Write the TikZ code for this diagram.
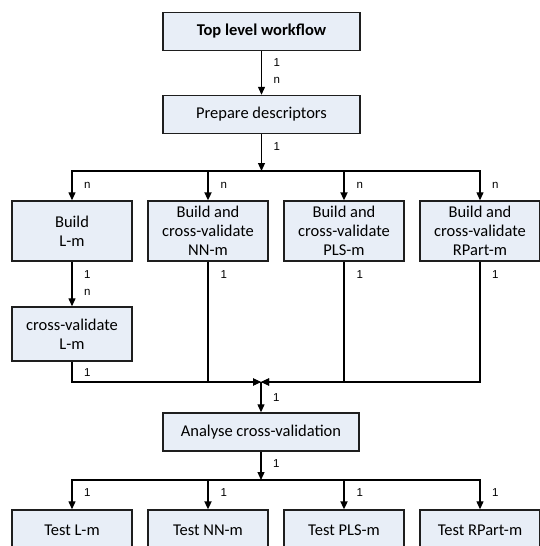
\documentclass[tikz,border=0pt]{standalone}
\usepackage{fontspec}
\setmainfont{Carlito}
\newfontfamily\lblfont{Liberation Sans}
\usetikzlibrary{arrows.meta}

\definecolor{boxfill}{RGB}{232,238,247}
\definecolor{boxline}{RGB}{30,30,30}

\tikzset{
    task/.style={draw=boxline, fill=boxfill, line width=1.4pt, inner sep=0pt,
        align=center, font=\fontsize{16.5}{19}\selectfont},
    wide/.style={task, minimum width=197pt, minimum height=38pt},
    small/.style={task, minimum width=120pt, minimum height=60pt},
    arr/.style={line width=1.2pt, -{Triangle[length=8pt,width=7pt]}},
    heavy/.style={line width=2.1pt},
    lbl/.style={font=\lblfont\fontsize{11.5}{13}\selectfont, anchor=west,
        inner sep=0pt, xshift=11.5pt}
}

\begin{document}
\begin{tikzpicture}[x=1pt, y=-1pt]
    \useasboundingbox (0,0) rectangle (540,546);
    \clip (0,0) rectangle (540,546);

    \node[wide, font=\fontsize{16.5}{19}\selectfont\bfseries] (top) at (261.5,31.5) {Top level workflow};
    \node[wide] (prep) at (261.5,114.5) {Prepare descriptors};

    \node[small] (buildL) at (72,231) {Build\\L-m};
    \node[small] (buildNN) at (208,231) {Build and\\cross-validate\\NN-m};
    \node[small] (buildPLS) at (344,231) {Build and\\cross-validate\\PLS-m};
    \node[small] (buildRP) at (480,231) {Build and\\cross-validate\\RPart-m};
    \node[small, minimum height=54pt] (cvL) at (72,334) {cross-validate\\L-m};

    \node[wide, minimum width=196pt] (anal) at (261,432) {Analyse cross-validation};

    \node[small, minimum height=40pt] (testL) at (72,530) {Test L-m};
    \node[small, minimum height=40pt] (testNN) at (208,530) {Test NN-m};
    \node[small, minimum height=40pt] (testPLS) at (344,530) {Test PLS-m};
    \node[small, minimum height=40pt] (testRP) at (480,530) {Test RPart-m};

    \coordinate (split) at (261.5,171);
    \coordinate (join) at (261,382);
    \coordinate (fan) at (261,480);

    \draw[arr] (top) -- (prep)
        node[lbl, at start, yshift=-11.5pt] {1}
        node[lbl, at end, yshift=14.5pt] {n};
    \draw[arr] (prep) -- (split) node[lbl, at start, yshift=-12.5pt] {1};

    \draw[arr] (split) -| (buildL) node[lbl, at end, yshift=15pt] {n};
    \draw[arr, heavy] (split) -| (buildNN) node[lbl, at end, yshift=15pt] {n};
    \draw[arr, heavy] (split) -| (buildPLS) node[lbl, at end, yshift=15pt] {n};
    \draw[arr] (split) -| (buildRP) node[lbl, at end, yshift=15pt] {n};

    \draw[arr] (buildL) -- (cvL)
        node[lbl, at start, yshift=-13pt] {1}
        node[lbl, at end, yshift=14pt] {n};

    \draw[arr] (cvL) |- (join) node[lbl, at start, yshift=-11pt] {1};
    \draw[arr, heavy] (buildNN) |- (join) node[lbl, at start, yshift=-13pt] {1};
    \draw[arr, heavy] (buildPLS) |- (join) node[lbl, at start, yshift=-13pt] {1};
    \draw[arr] (buildRP) |- (join) node[lbl, at start, yshift=-13pt] {1};

    \draw[arr] (join) -- (anal) node[lbl, at start, yshift=-16pt] {1};
    \draw[arr] (anal) -- (fan) node[lbl, at start, yshift=-12pt] {1};

    \draw[arr] (fan) -| (testL) node[lbl, at end, yshift=17pt] {1};
    \draw[arr, heavy] (fan) -| (testNN) node[lbl, at end, yshift=17pt] {1};
    \draw[arr, heavy] (fan) -| (testPLS) node[lbl, at end, yshift=17pt] {1};
    \draw[arr] (fan) -| (testRP) node[lbl, at end, yshift=17pt] {1};
\end{tikzpicture}
\end{document}
